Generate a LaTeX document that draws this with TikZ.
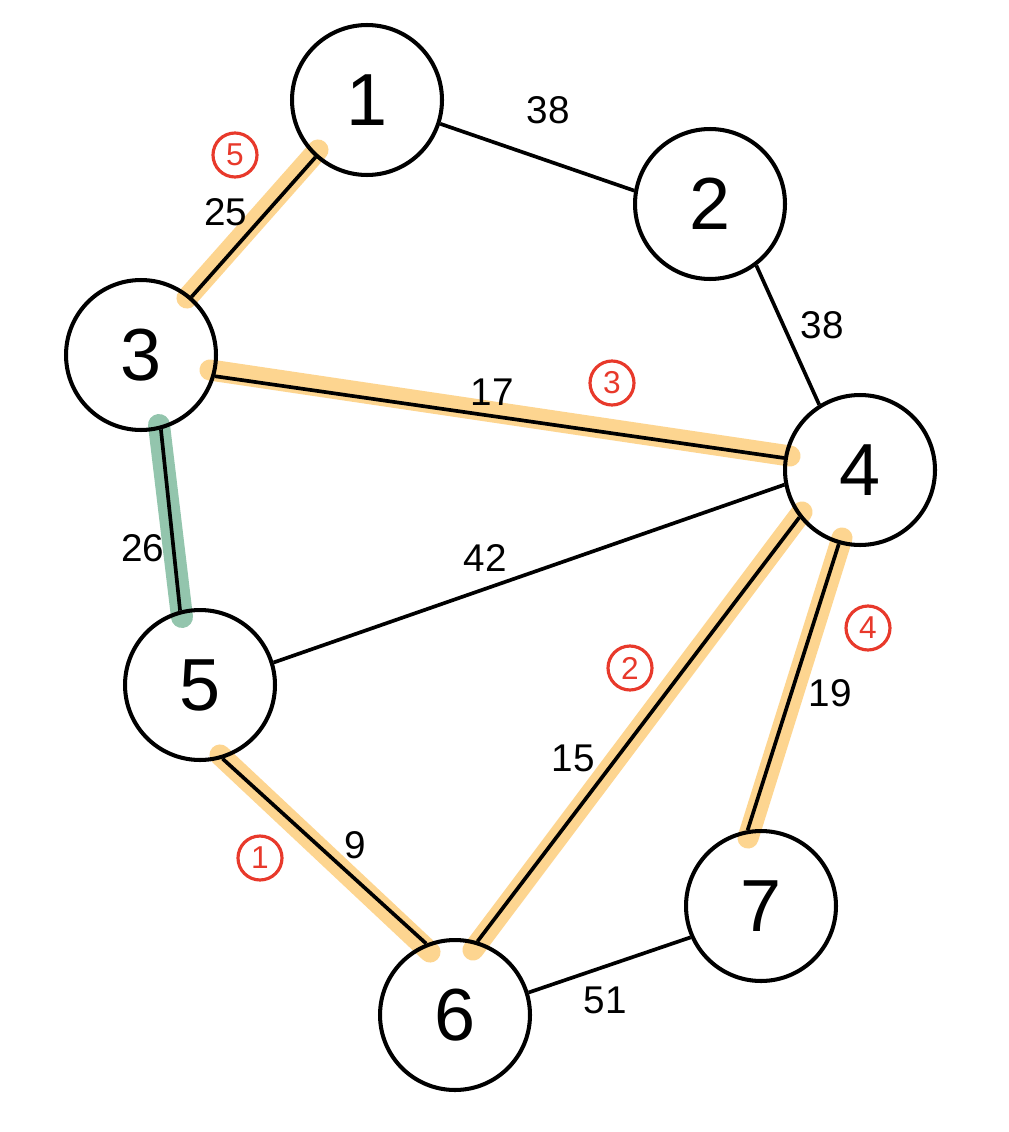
\documentclass[tikz,border=0pt]{standalone}
\usepackage{fontspec}
\setmainfont{Liberation Sans}
\definecolor{hlorange}{HTML}{FDD590}
\definecolor{hlgreen}{HTML}{93C5AD}
\definecolor{redmark}{HTML}{E8392B}
\begin{document}
\begin{tikzpicture}[x=0.02cm,y=-0.02cm,
 vertex/.style={circle,draw,line width=2.3pt,minimum size=3cm,inner sep=0pt,font=\fontsize{42}{42}\selectfont},
 edge/.style={line width=2.1pt},
 wlabel/.style={font=\fontsize{22}{22}\selectfont,inner sep=0pt},
 order/.style={circle,draw=redmark,text=redmark,line width=1.8pt,minimum size=0.88cm,inner sep=0pt,font=\fontsize{18}{18}\selectfont},
 hlo/.style={line width=12pt,draw=hlorange,line cap=round},
 hlg/.style={line width=12.5pt,draw=hlgreen,line cap=round}]
\useasboundingbox (0,0) rectangle (1008,1132);
\fill[white] (0,0) rectangle (1008,1132);
% highlight end points
\coordinate (h13a) at (318,150); \coordinate (h13b) at (187,298);
\coordinate (h34a) at (210,370); \coordinate (h34b) at (790,456);
\coordinate (h35a) at (159,425); \coordinate (h35b) at (182,617);
\coordinate (h56a) at (220,755); \coordinate (h56b) at (430,952);
\coordinate (h64a) at (473,950); \coordinate (h64b) at (802,512);
\coordinate (h47a) at (842,538); \coordinate (h47b) at (748,838);
% highlights
\draw[hlo] (h13a) -- (h13b);
\draw[hlo] (h34a) -- (h34b);
\draw[hlg] (h35a) -- (h35b);
\draw[hlo] (h56a) -- (h56b);
\draw[hlo] (h64a) -- (h64b);
\draw[hlo] (h47a) -- (h47b);
% vertices
\node[vertex] (n1) at (367,100) {1};
\node[vertex] (n2) at (710,204) {2};
\node[vertex] (n3) at (141,355) {3};
\node[vertex] (n4) at (860,470) {4};
\node[vertex] (n5) at (200,685) {5};
\node[vertex] (n6) at (455,1015) {6};
\node[vertex] (n7) at (761,906) {7};
% edges
\draw[edge] (n1.-18) -- (n2.170);
\draw[edge] (n1.228) -- (n3.49);
\draw[edge] (n2.-53) -- (n4.122);
\draw[edge] (n3.-16) -- (n4.171);
\draw[edge] (n3.-75) -- (n5.105);
\draw[edge] (n5.17) -- (n4.191);
\draw[edge] (n5.-73) -- (n6.112);
\draw[edge] (n6.73) -- (n4.218);
\draw[edge] (n4.254) -- (n7.100);
\draw[edge] (n6.17) -- (n7.204);
% weights
\node[wlabel] (w12) at (548,110) {38};
\node[wlabel] (w24) at (822,325) {38};
\node[wlabel] (w13) at (226,212) {25};
\node[wlabel] (w34) at (492,392) {17};
\node[wlabel] (w35) at (143,548) {26};
\node[wlabel] (w54) at (485,558) {42};
\node[wlabel] (w56) at (355,845) {9};
\node[wlabel] (w64) at (573,758) {15};
\node[wlabel] (w47) at (830,693) {19};
\node[wlabel] (w67) at (605,1000) {51};
% order marks
\node[order] (o1) at (260,858) {1};
\node[order] (o2) at (630,668) {2};
\node[order] (o3) at (612,383) {3};
\node[order] (o4) at (868,628) {4};
\node[order] (o5) at (235,155) {5};
\end{tikzpicture}
\end{document}
